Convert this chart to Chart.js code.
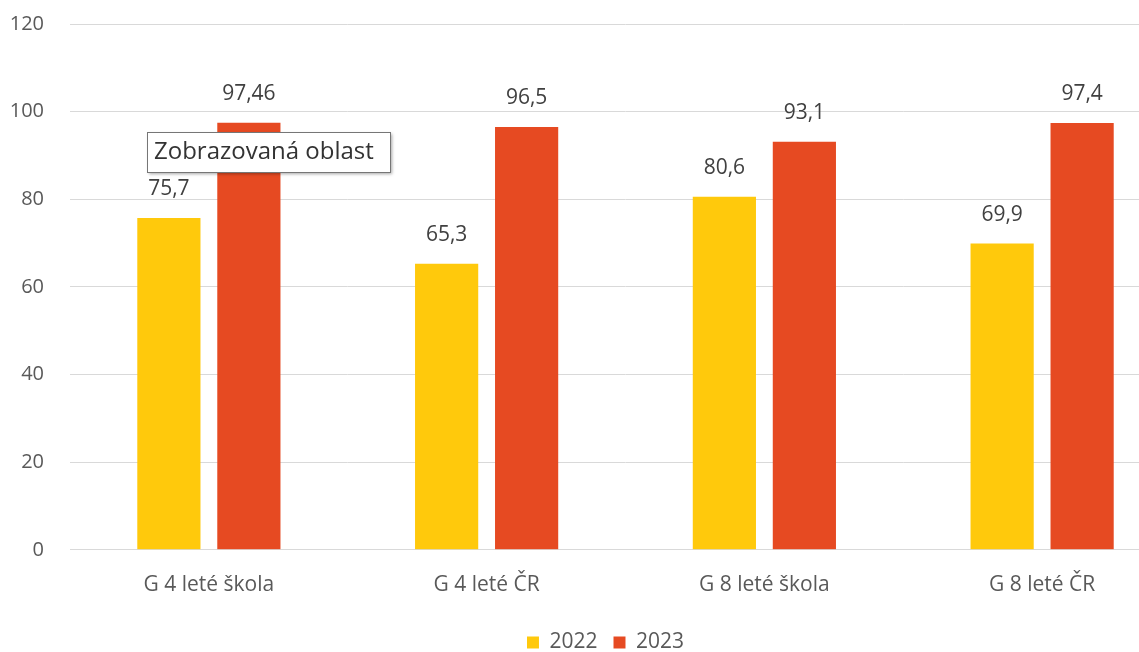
<!DOCTYPE html>
<html>
<head>
<meta charset="utf-8">
<script src="https://cdn.jsdelivr.net/npm/chart.js@4/dist/chart.umd.min.js"></script>
<style>
  html, body { margin: 0; padding: 0; background: #fff; overflow: hidden; }
  #wrap { width: 1210px; height: 674px; margin-top: -14px; }
</style>
</head>
<body>
<div id="wrap"><canvas id="chart"></canvas></div>
<script>
// data
const categories = ['G 4 leté škola', 'G 4 leté ČR', 'G 8 leté škola', 'G 8 leté ČR'];
const values2022 = [75.7, 65.3, 80.6, 69.9];
const values2023 = [97.46, 96.5, 93.1, 97.4];
const seriesNames = ['2022', '2023'];
const yTicks = [0, 20, 40, 60, 80, 100, 120];

const FONT = '"Open Sans", "Noto Sans", sans-serif';
const TEXT = '#595959';

// value labels above the bars, decimal comma
const barLabels = {
  id: 'barLabels',
  afterDatasetsDraw(chart) {
    const ctx = chart.ctx;
    ctx.save();
    ctx.font = '21px ' + FONT;
    ctx.fillStyle = '#404040';
    ctx.textAlign = 'center';
    ctx.textBaseline = 'middle';
    chart.data.datasets.forEach((ds, i) => {
      chart.getDatasetMeta(i).data.forEach((bar, j) => {
        const txt = String(ds.data[j]).replace('.', ',');
        ctx.fillText(txt, bar.x, bar.y - 29);
      });
    });
    ctx.restore();
  }
};

// legend in the original sits a bit right of the plot centre
const legendNudge = {
  id: 'legendNudge',
  afterLayout(chart) {
    const lg = chart.legend;
    if (!lg) return;
    lg.left += 15; lg.right += 15;
    lg.top += 3; lg.bottom += 3;
  }
};

// the "Zobrazovaná oblast" hover box seen in the screenshot (page coords, canvas is shifted up 14px)
const areaTip = {
  id: 'areaTip',
  afterDraw(chart) {
    const ctx = chart.ctx;
    const dy = 14;
    ctx.save();
    ctx.shadowColor = 'rgba(0,0,0,0.35)';
    ctx.shadowOffsetX = 2;
    ctx.shadowOffsetY = 2;
    ctx.shadowBlur = 3;
    ctx.fillStyle = '#ffffff';
    ctx.fillRect(147, 132 + dy, 243, 40);
    ctx.shadowColor = 'transparent';
    ctx.strokeStyle = '#767676';
    ctx.lineWidth = 1;
    ctx.strokeRect(147.5, 132.5 + dy, 243, 40);
    ctx.font = '24px ' + FONT;
    ctx.fillStyle = '#333333';
    ctx.textBaseline = 'middle';
    ctx.fillText('Zobrazovaná oblast', 154, 152 + dy);
    ctx.restore();
  }
};

new Chart(document.getElementById('chart'), {
  type: 'bar',
  data: {
    labels: categories,
    datasets: [
      { label: seriesNames[0], data: values2022, backgroundColor: '#FFC90C' },
      { label: seriesNames[1], data: values2023, backgroundColor: '#E64A22' }
    ]
  },
  options: {
    responsive: true,
    maintainAspectRatio: false,
    animation: false,
    events: [],
    layout: { padding: { top: 2, right: 29, bottom: 0, left: 0 } },
    datasets: { bar: { categoryPercentage: 0.576, barPercentage: 0.79 } },
    scales: {
      x: {
        grid: { display: false },
        border: { display: true, color: '#d9d9d9', width: 1 },
        ticks: { color: TEXT, font: { family: FONT, size: 21 }, padding: 15 }
      },
      y: {
        min: 0,
        max: 120,
        afterBuildTicks(axis) { axis.ticks = yTicks.map(v => ({ value: v })); },
        afterFit(axis) { axis.width = 70; },
        grid: { color: '#d9d9d9', drawTicks: false },
        border: { display: false },
        ticks: { color: TEXT, font: { family: FONT, size: 20 }, padding: 26 }
      }
    },
    plugins: {
      legend: {
        position: 'bottom',
        labels: {
          color: TEXT,
          font: { family: FONT, size: 21 },
          boxWidth: 12,
          boxHeight: 12,
          padding: 16
        }
      },
      tooltip: { enabled: false }
    }
  },
  plugins: [barLabels, legendNudge, areaTip]
});
</script>
</body>
</html>
